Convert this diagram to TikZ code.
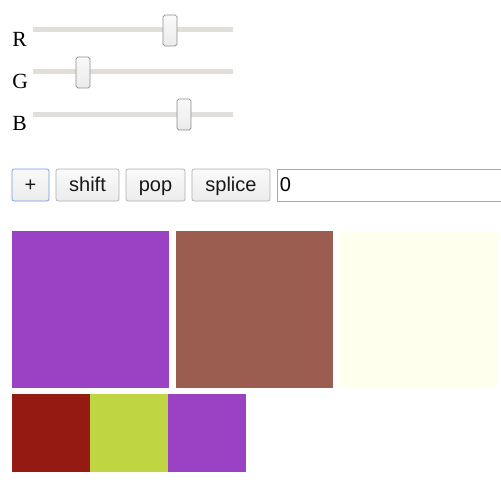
\documentclass[tikz,border=0pt]{standalone}
\usepackage{fontspec}
\setmainfont{Liberation Serif}
\newfontfamily\uifont{Liberation Sans}
\usetikzlibrary{positioning,chains}
\newcommand\px{0.02cm}
\definecolor{swpurple}{HTML}{9A42C3}
\definecolor{swbrown}{HTML}{9B5D50}
\definecolor{swivory}{HTML}{FFFFEE}
\definecolor{swred}{HTML}{951A12}
\definecolor{swlime}{HTML}{BFD642}
\definecolor{trackgray}{HTML}{E1DEDA}
\definecolor{thumbedge}{HTML}{8E8C8A}
\definecolor{btnedge}{HTML}{ADADAD}
\definecolor{plusedge}{HTML}{6A9BE6}
\definecolor{fieldedge}{HTML}{A9A9A9}

\begin{document}
\begin{tikzpicture}[x=\px,y=-\px,
	track/.style={
		line width=5*\px,
		draw=trackgray
	},
	thumb/.style={
		draw=thumbedge,
		rounded corners=1pt,
		top color=white!96!gray,
		bottom color=white!84!gray,
		minimum width=14*\px, minimum height=31*\px,
		inner sep=0pt, outer sep=0pt
	},
	lab/.style={
		font=\fontsize{12.3}{14}\selectfont,
		inner sep=0pt, anchor=base west
	},
	btn/.style={
		draw=btnedge,
		rounded corners=1.2pt,
		top color=white!96!gray,
		bottom color=white!85!gray,
		font=\uifont\fontsize{11.4}{13}\selectfont,
		text=black!90,
		text height=0.98em, text depth=0.2em,
		minimum height=32*\px,
		inner sep=0pt, outer sep=0pt
	},
	field/.style={
		draw=fieldedge,
		fill=white,
		font=\uifont\fontsize{11.4}{13}\selectfont,
		text height=0.98em, text depth=0.2em,
		minimum height=32*\px,
		inner xsep=3*\px, inner ysep=0pt, outer sep=0pt,
		align=left
	},
	swatch/.style={
		minimum width=#1*\px, minimum height=#1*\px,
		inner sep=0pt, outer sep=0pt
	}
	]
	\useasboundingbox (0,0) rectangle (500,500);
	
	% sliders
	\foreach \c/\ty/\tx in {R/30/170, G/72/83, B/114/184} {
		\node[lab] (lab\c) at (12,\ty+17) {\c};
		\draw[track] (33,\ty) -- (233,\ty);
		\node[thumb] (thumb\c) at (\tx,\ty+0.5) {};
	}
	
	% buttons
	\begin{scope}[start chain=btns going right,node distance=0.14cm]
	\node[on chain,btn,draw=plusedge,minimum width=37*\px] at (30.5,185)
	(plus) {+};
	\node[on chain,btn,minimum width=63*\px] 
	(shift) {shift};
	\node[on chain,btn,minimum width=59*\px] 
	(pop) {pop};
	\node[on chain,btn,minimum width=78*\px] 
	(splice) {splice};
	\node[on chain,field,text width=228*\px] 
	(input) {0};
	\end{scope}
	
	% colour swatches
	\begin{scope}[start chain=big going right,node distance=0.14cm]
	\node[on chain,swatch=157,fill=swpurple,anchor=north west] at (12,231)
	(sq1) {};
	\node[on chain,swatch=157,fill=swbrown] 
	(sq2) {};
	\node[on chain,swatch=157,fill=swivory] 
	(sq3) {};
	\end{scope}
	\begin{scope}[start chain=small going right,node distance=0pt]
	\node[on chain,swatch=78,fill=swred,anchor=north west] at (12,394)
	(sm1) {};
	\node[on chain,swatch=78,fill=swlime] 
	(sm2) {};
	\node[on chain,swatch=78,fill=swpurple] 
	(sm3) {};
	\end{scope}
\end{tikzpicture}
\end{document}
